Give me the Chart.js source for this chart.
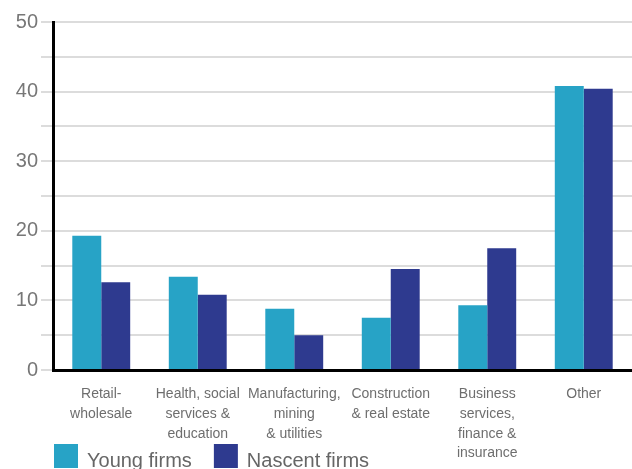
<!DOCTYPE html>
<html>
<head>
<meta charset="utf-8">
<script src="https://cdn.jsdelivr.net/npm/chart.js@4/dist/chart.umd.min.js"></script>
<style>
  html, body { margin: 0; padding: 0; background: #fff; overflow: hidden; }
  #sectorChart { display: block; }
</style>
</head>
<body>
<canvas id="sectorChart" width="632" height="469"></canvas>
<script>
// sectors, one multi-line label each
const categories = [
  ['Retail-', 'wholesale'],
  ['Health, social', 'services &', 'education'],
  ['Manufacturing,', 'mining', '& utilities'],
  ['Construction', '& real estate'],
  ['Business', 'services,', 'finance &', 'insurance'],
  ['Other']
];
const youngFirms = [19.3, 13.4, 8.8, 7.5, 9.3, 40.8];
const nascentFirms = [12.6, 10.8, 5.0, 14.5, 17.5, 40.4];
const yTicks = [0, 10, 20, 30, 40, 50];

const FONT = "'Liberation Sans', Arial, Helvetica, sans-serif";

// legend drawn under the axis labels, starting at the y axis
const bottomLegend = {
  id: 'bottomLegend',
  afterDraw(chart) {
    const ctx = chart.ctx;
    let x = chart.chartArea.left + 1;
    const top = 444;
    ctx.save();
    ctx.font = '20px ' + FONT;
    ctx.textBaseline = 'alphabetic';
    ctx.textAlign = 'left';
    chart.data.datasets.forEach(ds => {
      ctx.fillStyle = ds.backgroundColor;
      ctx.fillRect(x, top, 24, 24);
      x += 33;
      ctx.fillStyle = '#666';
      ctx.fillText(ds.label, x, top + 23);
      x += ctx.measureText(ds.label).width + 22;
    });
    ctx.restore();
  }
};

const ctx = document.getElementById('sectorChart').getContext('2d');

new Chart(ctx, {
  type: 'bar',
  data: {
    labels: categories,
    datasets: [
      {
        label: 'Young firms',
        data: youngFirms,
        backgroundColor: '#27a3c6'
      },
      {
        label: 'Nascent firms',
        data: nascentFirms,
        backgroundColor: '#2e3a8f'
      }
    ]
  },
  options: {
    responsive: false,
    animation: false,
    layout: {
      padding: { top: 22, right: 0, bottom: 0, left: 0 }
    },
    categoryPercentage: 0.6,
    barPercentage: 1.0,
    scales: {
      x: {
        grid: { display: false, drawTicks: false },
        border: { color: '#000', width: 3 },
        ticks: {
          color: '#6e6e6e',
          padding: 14,
          autoSkip: false,
          maxRotation: 0,
          minRotation: 0,
          font: { family: FONT, size: 14, lineHeight: 1.42 }
        },
        afterFit(scale) { scale.height = 99; }
      },
      y: {
        min: 0,
        max: 50,
        grid: { color: '#dcdcdc', lineWidth: 2, tickLength: 12 },
        border: { color: '#000', width: 3 },
        ticks: {
          stepSize: 5,
          color: '#777',
          padding: 3,
          font: { family: FONT, size: 20 },
          callback: v => (yTicks.includes(v) ? v : '')
        },
        afterFit(scale) { scale.width = 53; }
      }
    },
    plugins: {
      legend: { display: false },
      tooltip: { enabled: false }
    }
  },
  plugins: [bottomLegend]
});
</script>
</body>
</html>
